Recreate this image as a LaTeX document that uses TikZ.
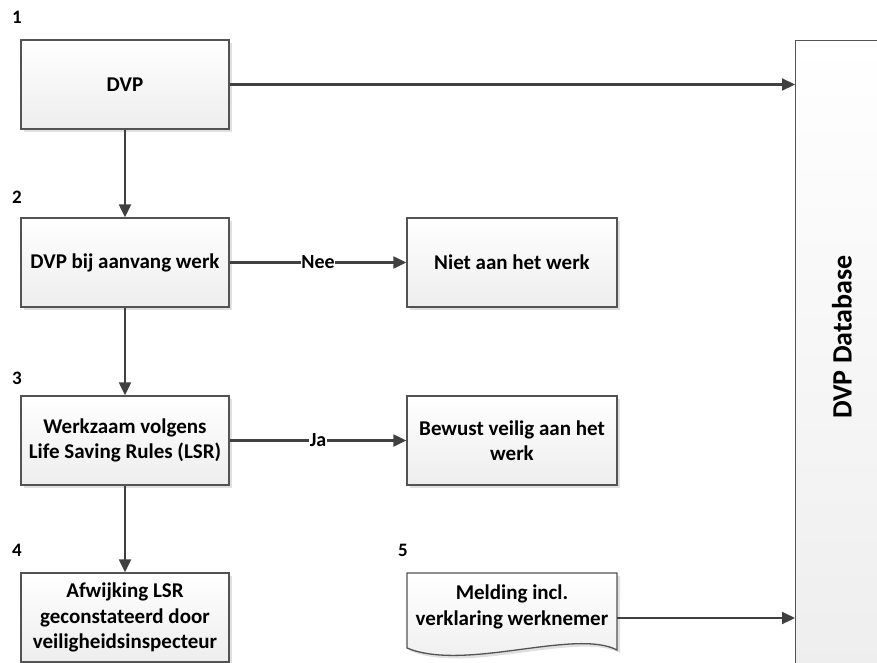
\documentclass[tikz,border=0pt]{standalone}
\usepackage{fontspec}
\setmainfont{Carlito}
\usetikzlibrary{arrows.meta, shadows, positioning}

\definecolor{lijn}{HTML}{404040}
\tikzset{
  schaduw/.style={drop shadow={shadow xshift=3pt, shadow yshift=-3pt, fill=black!12, opacity=1}},
  stapbox/.style={draw=lijn!90, line width=1.3pt, top color=white, bottom color=black!7,
    minimum width=208pt, minimum height=89pt, align=center, inner sep=2pt,
    font=\fontsize{21}{25.5}\selectfont\bfseries, schaduw},
  pijl/.style={draw=lijn, line width=2.1pt, -{Triangle[length=13pt, width=12pt]}},
  keuze/.style={fill=white, inner sep=0.5pt, font=\fontsize{20}{24}\selectfont\bfseries},
  nummer/.style={font=\fontsize{19}{22}\selectfont\bfseries},
}

\begin{document}
\begin{tikzpicture}[x=1pt, y=-1pt]
  \useasboundingbox (0,0) rectangle (877,662);
  \clip (0,0) rectangle (877,662);

  % stappen links
  \node[stapbox] (dvp) at (125,84.5) {DVP};
  \node[stapbox] (aanvang) at (125,262.5) {DVP bij aanvang werk};
  \node[stapbox] (lsr) at (125,440.5) {Werkzaam volgens\\Life Saving Rules (LSR)};
  \node[stapbox] (afwijking) at (125,617.5) {Afwijking LSR\\geconstateerd door\\veiligheidsinspecteur};

  % uitkomsten rechts
  \node[stapbox, minimum width=210pt] (niet) at (512,262.5) {Niet aan het werk};
  \node[stapbox, minimum width=210pt] (bewust) at (512,440.5) {Bewust veilig aan het\\werk};

  % melding (document)
  \path[schaduw, draw=lijn!90, line width=1.3pt, top color=white, bottom color=black!7]
    (407,573) -- (617,573) -- (617,650)
    .. controls (575,628) and (465,672) .. (407,648) -- cycle;
  \node[minimum width=210pt, minimum height=68pt, align=center, inner sep=0pt,
    font=\fontsize{21}{25.5}\selectfont\bfseries] (melding) at (512,607) {Melding incl.\\verklaring werknemer};

  % database
  \node[stapbox, anchor=north west, minimum width=110pt, minimum height=660pt] (dbvak) at (795,40) {};
  \node[rotate=90, font=\fontsize{28}{32}\selectfont\bfseries] (dbtekst) at (842,337) {DVP Database};

  % nummers
  \node[nummer] (n1) at (17,17) {1};
  \node[nummer] (n2) at (17,197) {2};
  \node[nummer] (n3) at (17,378) {3};
  \node[nummer] (n4) at (17,550) {4};
  \node[nummer] (n5) at (403,550) {5};

  % verbindingen
  \draw[pijl] (dvp) -- (aanvang);
  \draw[pijl] (aanvang) -- (lsr);
  \draw[pijl] (lsr) -- (afwijking);
  \draw[pijl] (aanvang) -- node[keuze] {Nee} (niet);
  \draw[pijl] (lsr) -- node[keuze] {Ja} (bewust);
  \draw[pijl] (dvp) -- (dvp -| dbvak.west);
  \draw[pijl] ([yshift=-11pt]melding.east) -- ([yshift=-11pt]melding.east -| dbvak.west);
\end{tikzpicture}
\end{document}
